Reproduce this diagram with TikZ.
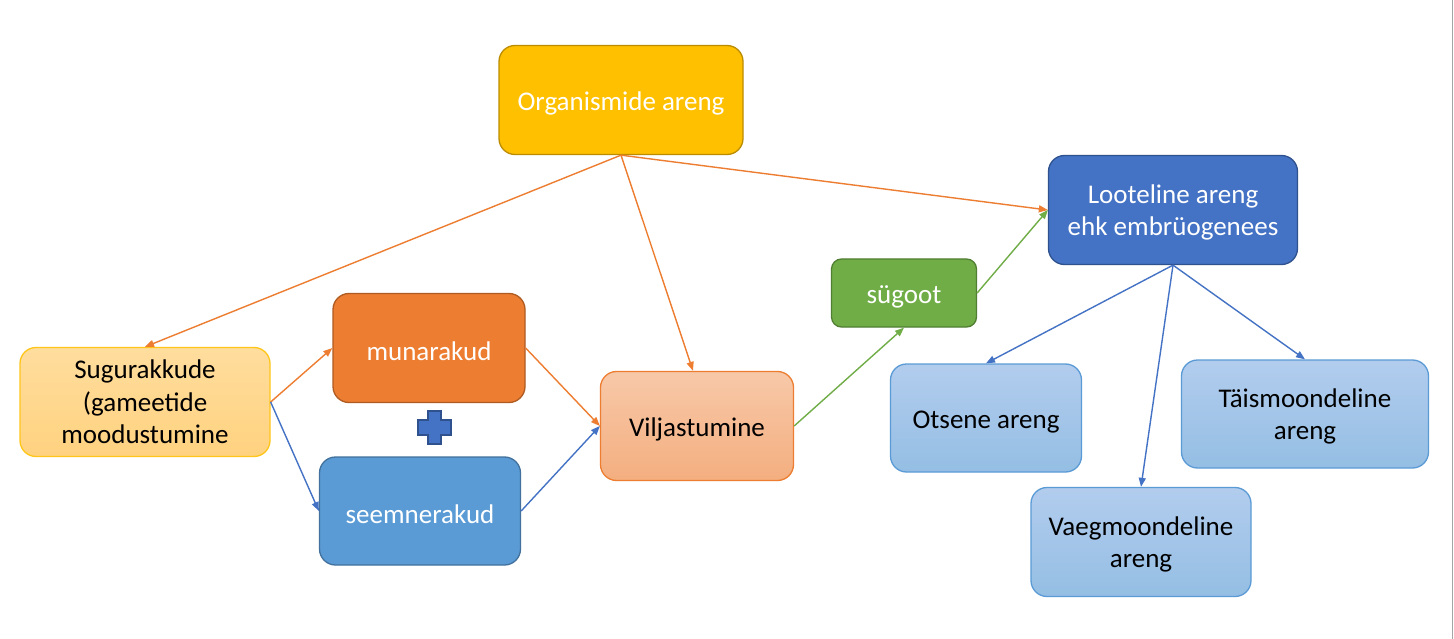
\documentclass[tikz,border=0pt]{standalone}
\usepackage{fontspec}
\setmainfont{Carlito}
\usetikzlibrary{arrows.meta}
\definecolor{gold}{HTML}{FFC000}
\definecolor{goldline}{HTML}{BC8C00}
\definecolor{paletop}{HTML}{FFDD9E}
\definecolor{palebottom}{HTML}{FFD27F}
\definecolor{accorange}{HTML}{ED7D31}
\definecolor{orangeline}{HTML}{AE5A21}
\definecolor{accblue}{HTML}{4472C4}
\definecolor{blueline}{HTML}{2F528F}
\definecolor{skyblue}{HTML}{5B9BD5}
\definecolor{skyline}{HTML}{41719C}
\definecolor{accgreen}{HTML}{70AD47}
\definecolor{greenline}{HTML}{507E32}

\begin{document}
\begin{tikzpicture}[
  x=1pt, y=-1pt,
  stage/.style={draw, line width=1.3pt, rounded corners=16pt, align=center, inner sep=0pt,
    font=\fontsize{27}{32.5}\selectfont, execute at begin node={\rule{0pt}{25pt}}},
  light/.style={stage, draw=skyblue, top color=blue!8!skyblue!45, bottom color=skyblue!65},
  lower/.style={text depth=-6pt},
  link/.style={-{Triangle[length=9pt,width=7pt]}, line width=1.4pt}
]
\useasboundingbox (0,0) rectangle (1454,639);
\fill[white] (0,0) rectangle (1454,639);
\draw[gray!70, line width=1pt] (1452,0) -- (1452,639);

% Top
\node[stage, fill=gold, draw=goldline, text=white, minimum width=244pt, minimum height=109pt]
  (organism) at (621,100) {Organismide areng};

% Left branch: gametes
\node[stage, lower, draw=gold!90, top color=paletop, bottom color=palebottom, minimum width=250pt, minimum height=109pt]
  (gamete) at (145,402) {Sugurakkude\\(gameetide\\moodustumine};
\node[stage, fill=accorange, draw=orangeline, text=white, minimum width=192pt, minimum height=109pt]
  (egg) at (429,348) {munarakud};
\node[stage, fill=skyblue, draw=skyline, text=white, minimum width=201pt, minimum height=108pt]
  (sperm) at (420,511) {seemnerakud};
\filldraw[fill=accblue, draw=blueline, line width=1.2pt]
  (428,411) -- (441,411) -- (441,420) -- (451,420) -- (451,435) -- (441,435) -- (441,444)
  -- (428,444) -- (428,435) -- (418,435) -- (418,420) -- (428,420) -- cycle;

% Middle
\node[stage, draw=accorange, top color=accorange!42, bottom color=accorange!62, minimum width=193pt, minimum height=109pt]
  (fert) at (697,426) {Viljastumine};
\node[stage, fill=accgreen, draw=greenline, text=white, rounded corners=10pt, minimum width=145pt, minimum height=68pt]
  (zygote) at (904,293) {sügoot};

% Right branch: embryogenesis
\node[stage, lower, fill=accblue, draw=blueline, text=white, minimum width=249pt, minimum height=109pt]
  (embryo) at (1173,210) {Looteline areng\\ehk embrüogenees};
\node[light, minimum width=191pt, minimum height=108pt] (direct) at (986,418) {Otsene areng};
\node[light, lower, minimum width=247pt, minimum height=108pt] (complete) at (1305,414) {Täismoondeline\\areng};
\node[light, lower, minimum width=220pt, minimum height=109pt] (partial) at (1141,542) {Vaegmoondeline\\areng};

% Connectors
\draw[link, accorange] (organism.south) -- (gamete.north);
\draw[link, accorange] (organism.south) -- ([xshift=-4pt]fert.north);
\draw[link, accorange] (organism.south) -- (embryo.west);
\draw[link, accorange] (gamete.east) -- (egg.west);
\draw[link, accblue] (gamete.east) -- (sperm.west);
\draw[link, accorange] (egg.east) -- (fert.west);
\draw[link, accblue] (sperm.east) -- (fert.west);
\draw[link, accgreen] (fert.east) -- (zygote.south);
\draw[link, accgreen] (zygote.east) -- (embryo.west);
\draw[link, accblue] (embryo.south) -- (direct.north);
\draw[link, accblue] (embryo.south) -- (partial.north);
\draw[link, accblue] (embryo.south) -- (complete.north);
\end{tikzpicture}
\end{document}
